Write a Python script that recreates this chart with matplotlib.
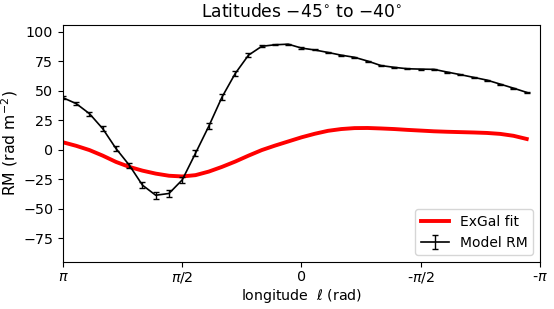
import matplotlib
matplotlib.use('Agg')
import matplotlib.pyplot as plt
import numpy as np

# longitude grid in degrees (180 down to -170, step 10)
lon_deg = [180, 170, 160, 150, 140, 130, 120, 110, 100, 90, 80, 70, 60, 50, 40, 30, 20, 10,
           0, -10, -20, -30, -40, -50, -60, -70, -80, -90, -100, -110, -120, -130, -140, -150, -160, -170]

model_rm = [44, 39, 30.5, 17.8, 1, -13, -30, -38.5, -37, -25.5, -3, 19.8, 44.5, 64.5, 80,
            87.5, 88.8, 89.3, 86, 84.4, 82.3, 80, 78.2, 75, 71.2, 69.7, 68.5, 68.2, 68,
            65.7, 63.5, 61.2, 58.9, 55.5, 52.1, 48.5]
model_err = [1.2, 1.5, 1.8, 2, 2.2, 2.2, 2.5, 3, 3, 2.5, 2.5, 2.5, 2.5, 2, 1.5,
             0.8, 0.6, 0.5, 0.5, 0.4, 0.4, 0.4, 0.4, 0.4, 0.4, 0.4, 0.4, 0.4, 0.4, 0.4,
             0.4, 0.4, 0.4, 0.4, 0.4, 0.4]

exgal_fit = [6.3, 3.3, -0.3, -5, -10.3, -14.5, -17.7, -20.2, -22, -22.6, -21.5, -18.5,
             -14.5, -10, -5, -0.3, 3.5, 7, 10.5, 13.5, 16, 17.5, 18.3, 18.4, 18, 17.5,
             16.8, 16.2, 15.6, 15.2, 14.9, 14.6, 14.2, 13.4, 11.8, 9.1]

tick_pos = [np.pi, np.pi / 2, 0, -np.pi / 2, -np.pi]
tick_labels = [r'$\pi$', r'$\pi/2$', '0', r'-$\pi/2$', r'-$\pi$']

lon = np.radians(lon_deg)

fig = plt.figure(figsize=(5.54, 3.09), dpi=100)
ax = fig.add_axes([0.1137, 0.152, 0.861, 0.767])

ax.plot(lon, exgal_fit, color='red', lw=2.8, label='ExGal fit')
ax.errorbar(lon, model_rm, yerr=model_err, color='black', lw=1.2, capsize=2.5,
            elinewidth=1.0, label='Model RM')

ax.set_xlim(np.pi, -np.pi)
ax.set_ylim(-95, 105.5)
ax.set_xticks(tick_pos)
ax.set_xticklabels(tick_labels)
ax.set_yticks([-75, -50, -25, 0, 25, 50, 75, 100])
ax.tick_params(labelsize=10.3)
ax.tick_params(axis='x', pad=2.5)

ax.set_title(r'Latitudes $-45^{\circ}$ to $-40^{\circ}$', fontsize=12.3)
ax.set_xlabel(r'longitude  $\ell$ (rad)', fontsize=10.2, labelpad=1.5)
ax.set_ylabel(r'RM (rad m$^{-2}$)', fontsize=11.3, labelpad=2)

ax.legend(loc='lower right', fontsize=10)

fig.savefig('out.png', dpi=100)
